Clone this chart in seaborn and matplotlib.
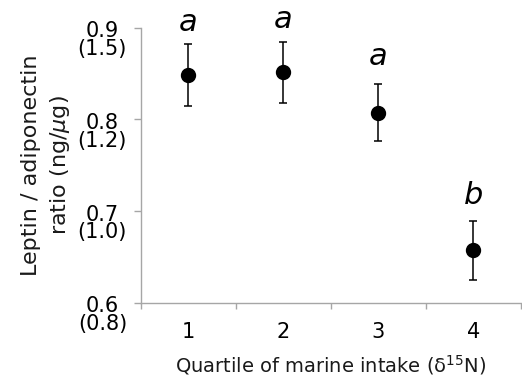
#!/usr/bin/env python3

import pandas as pd
import seaborn as sns
import matplotlib.pyplot as plt
from matplotlib.transforms import ScaledTranslation

# Values
quartiles = ["1", "2", "3", "4"]
ratio_mean = [0.848, 0.851, 0.807, 0.657]
ratio_err = [0.034, 0.033, 0.031, 0.032]
group_letters = ["a", "a", "a", "b"]
letter_y = [0.896, 0.899, 0.859, 0.708]

ytick_values = [0.6, 0.7, 0.8, 0.9]
ytick_alt = ["(0.8)", "(1.0)", "(1.2)", "(1.5)"]

AXIS_GREY = "#a6a6a6"


def main():
    sns.set_theme(
        style="ticks",
        rc={
            "axes.spines.right": False,
            "axes.spines.top": False,
            "axes.edgecolor": AXIS_GREY,
            "axes.linewidth": 1.0,
            "xtick.color": AXIS_GREY,
            "ytick.color": AXIS_GREY,
            "xtick.labelcolor": "black",
            "ytick.labelcolor": "black",
            "font.size": 15,
        },
    )
    plt.rcParams["font.family"] = ["DejaVu Sans"]

    frame = pd.DataFrame({"Quartile": quartiles, "Ratio": ratio_mean})

    fig = plt.figure(figsize=(5.22, 3.81), dpi=100)
    ax = fig.add_axes([141 / 522, 1 - 302.7 / 381, 379.7 / 522, 275.2 / 381])

    ax.errorbar(range(len(quartiles)), ratio_mean, yerr=ratio_err,
                fmt="none", ecolor="black", elinewidth=1.1, capsize=3,
                capthick=1.1, zorder=2)
    sns.pointplot(data=frame, x="Quartile", y="Ratio", errorbar=None,
                  linestyle="none", marker="o", color="black",
                  markersize=9, ax=ax, zorder=3)

    for i, letter in enumerate(group_letters):
        ax.text(i, letter_y[i], letter, ha="center", va="baseline",
                fontsize=22, fontstyle="italic", color="black")

    ax.set_xlim(-0.5, len(quartiles) - 0.5)
    ax.set_ylim(0.6, 0.9)

    ax.set_xticks(range(len(quartiles)))
    ax.set_xticklabels(quartiles)
    ax.set_xticks([i - 0.5 for i in range(len(quartiles) + 1)], minor=True)
    ax.tick_params(axis="x", which="major", length=0, pad=14, labelsize=15)
    ax.tick_params(axis="x", which="minor", length=4, width=1.0)

    ax.set_yticks(ytick_values)
    ax.set_yticklabels([f"{v:.1f}\n{alt}" for v, alt in zip(ytick_values, ytick_alt)],
                       va="top", multialignment="center", linespacing=0.85)
    ax.tick_params(axis="y", length=5, width=1.0, pad=5, labelsize=15)
    # lift the two-line labels so the first line sits on the tick
    lift = ScaledTranslation(0, 4.5 / 72, fig.dpi_scale_trans)
    for label in ax.get_yticklabels():
        label.set_transform(label.get_transform() + lift)

    ax.set_xlabel("Quartile of marine intake (δ$^{15}$N)", fontsize=14,
                  labelpad=8, color="#1a1a1a")
    ax.set_ylabel("Leptin / adiponectin\nratio (ng/$\\mu$g)", fontsize=16,
                  labelpad=4, linespacing=1.4, color="#1a1a1a")

    fig.savefig("out.png", dpi=100)


if __name__ == "__main__":
    main()
